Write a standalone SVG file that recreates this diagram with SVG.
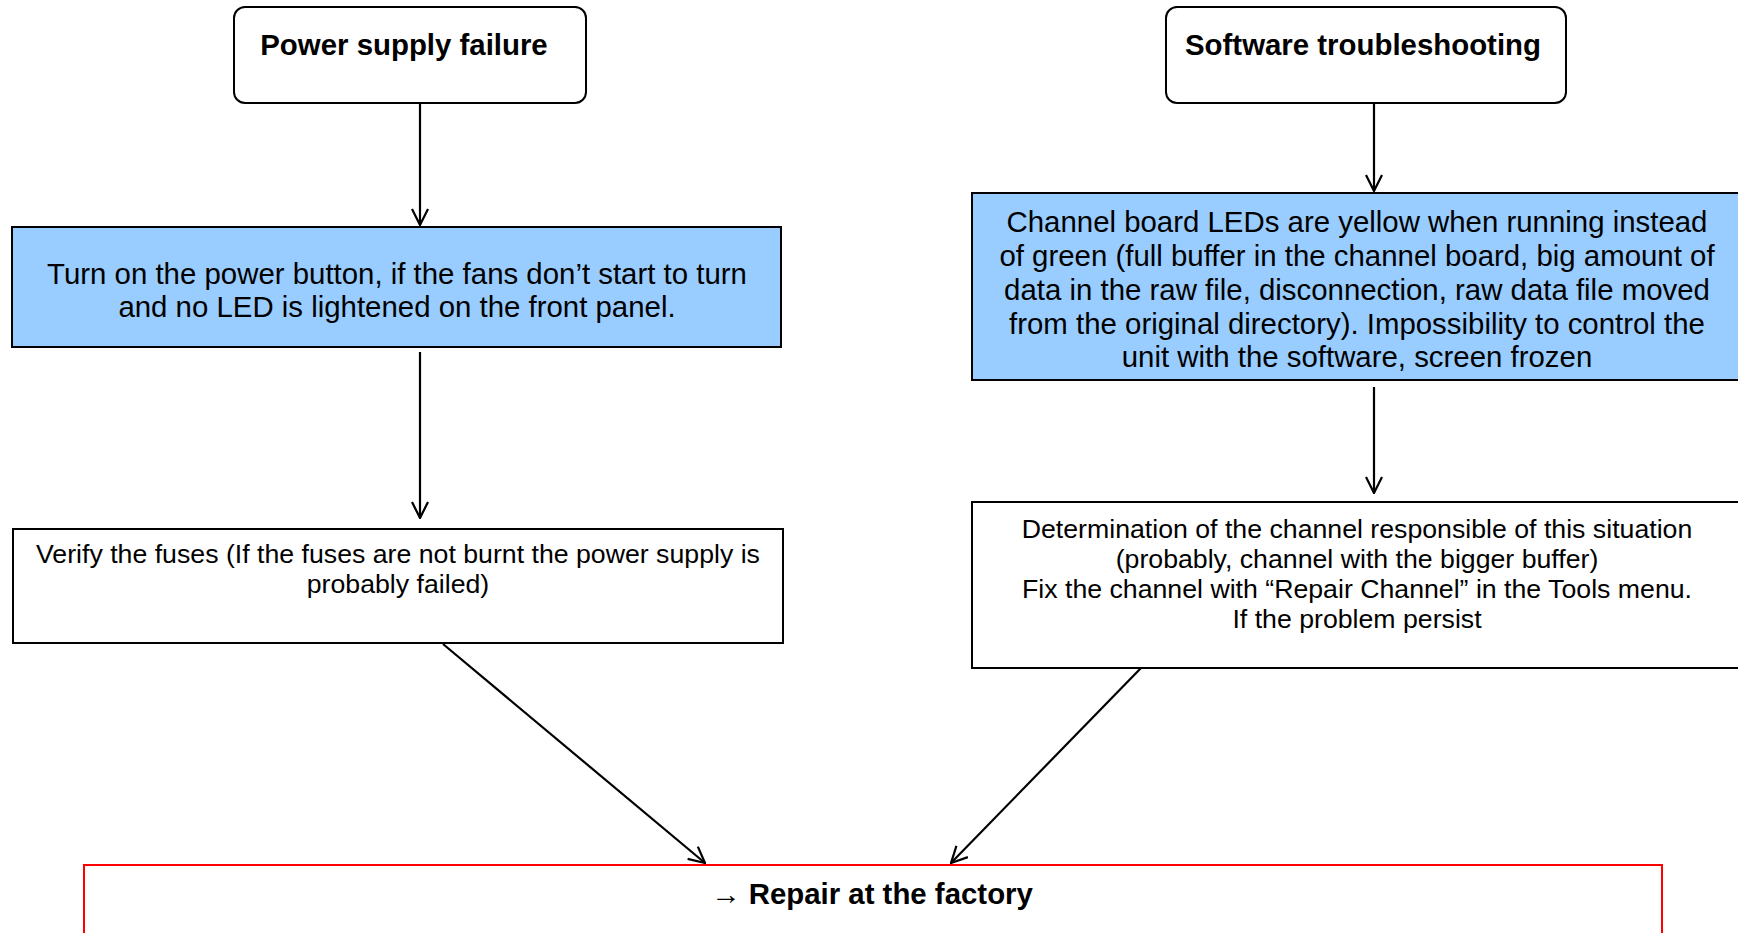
<svg xmlns="http://www.w3.org/2000/svg" width="1738" height="933" viewBox="0 0 1738 933">
<style>
.box{fill:#fff;stroke:#000;stroke-width:2}
.blue{fill:#99ccff;stroke:#000;stroke-width:2}
.red{fill:#fff;stroke:#ff0000;stroke-width:2}
.t{font-family:"Liberation Sans",Arial,sans-serif;fill:#000;text-anchor:middle}
.b{font-weight:bold;font-size:29.4px}
.l{font-size:29.4px}
.s{font-size:26.7px}
.c{stroke:#000;stroke-width:2.2;fill:none}
</style>
<defs>
<marker id="ah" viewBox="0 0 18 18" refX="17" refY="9" markerWidth="18" markerHeight="18" markerUnits="userSpaceOnUse" orient="auto">
<path d="M1,1 L17,9 L1,17" fill="none" stroke="#000" stroke-width="2.2"/>
</marker>
</defs>
<rect width="1738" height="933" fill="#fff"/>
<g id="connectors">
<line class="c" x1="420" y1="104" x2="420" y2="225" marker-end="url(#ah)"/>
<line class="c" x1="420" y1="352" x2="420" y2="518" marker-end="url(#ah)"/>
<line class="c" x1="1374" y1="104" x2="1374" y2="191" marker-end="url(#ah)"/>
<line class="c" x1="1374" y1="387" x2="1374" y2="493" marker-end="url(#ah)"/>
<line class="c" x1="443" y1="644" x2="705" y2="863" marker-end="url(#ah)"/>
<line class="c" x1="1141" y1="668" x2="951" y2="863" marker-end="url(#ah)"/>
</g>
<g id="power">
<rect class="box" x="234" y="7" width="352" height="96" rx="11"/>
<text class="t b" x="404" y="55">Power supply failure</text>
</g>
<g id="software">
<rect class="box" x="1166" y="7" width="400" height="96" rx="11"/>
<text class="t b" x="1363" y="55">Software troubleshooting</text>
</g>
<g id="turnon">
<rect class="blue" x="12" y="227" width="769" height="120"/>
<text class="t l" x="397" y="284">Turn on the power button, if the fans don’t start to turn</text>
<text class="t l" x="397" y="317">and no LED is lightened on the front panel.</text>
</g>
<g id="fuses">
<rect class="box" x="13" y="529" width="770" height="114"/>
<text class="t s" x="398" y="563">Verify the fuses (If the fuses are not burnt the power supply is</text>
<text class="t s" x="398" y="593">probably failed)</text>
</g>
<g id="leds">
<rect class="blue" x="972" y="193" width="780" height="187"/>
<text class="t l" x="1357" y="232">Channel board LEDs are yellow when running instead</text>
<text class="t l" x="1357" y="266">of green (full buffer in the channel board, big amount of</text>
<text class="t l" x="1357" y="300">data in the raw file, disconnection, raw data file moved</text>
<text class="t l" x="1357" y="334">from the original directory). Impossibility to control the</text>
<text class="t l" x="1357" y="367">unit with the software, screen frozen</text>
</g>
<g id="determination">
<rect class="box" x="972" y="502" width="780" height="166"/>
<text class="t s" x="1357" y="538">Determination of the channel responsible of this situation</text>
<text class="t s" x="1357" y="568">(probably, channel with the bigger buffer)</text>
<text class="t s" x="1357" y="598">Fix the channel with “Repair Channel” in the Tools menu.</text>
<text class="t s" x="1357" y="628">If the problem persist</text>
</g>
<g id="repair">
<rect class="red" x="84" y="865" width="1578" height="90"/>
<text class="t b" x="872" y="904"><tspan font-weight="normal">→</tspan> Repair at the factory</text>
</g>
</svg>
